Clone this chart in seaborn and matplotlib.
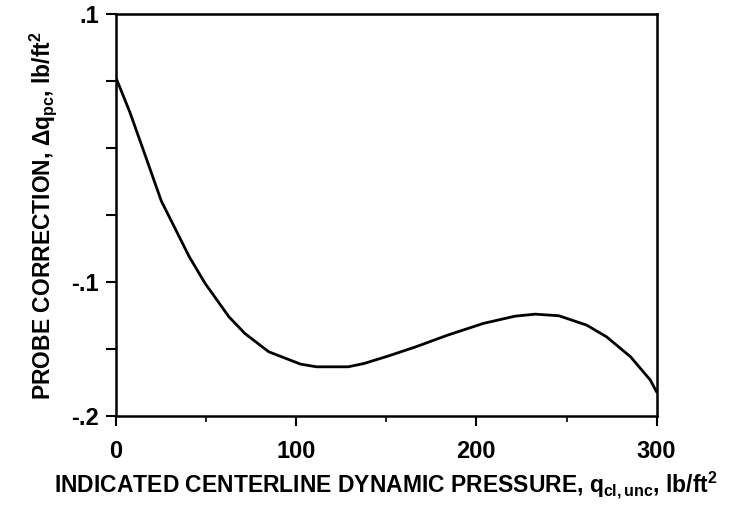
import numpy as np
import matplotlib
matplotlib.use('Agg')
import matplotlib.pyplot as plt
import seaborn as sns
from matplotlib.ticker import FixedLocator

# valeurs
q_cl = [0, 7.8, 15.2, 25.3, 29.7, 40.8, 49.6, 62.8, 71.6, 84.9, 102.5, 111.3,
        128.9, 137.8, 151, 166.4, 184, 203.9, 221.5, 232.6, 245.8, 261.2,
        272.2, 285.5, 296.5, 300]
dq_pc = [0.053, 0.027, -0.001, -0.0395, -0.0513, -0.0811, -0.101, -0.1259,
         -0.1383, -0.152, -0.1612, -0.1632, -0.1632, -0.1607, -0.1552, -0.1483,
         -0.1396, -0.1308, -0.1254, -0.1239, -0.1251, -0.1321, -0.1408,
         -0.1557, -0.1731, -0.182]

x_ticks = [0, 100, 200, 300]
x_labels = ['0', '100', '200', '300']
x_minor = [50, 150, 250]
y_ticks = [0.1, 0.05, 0.0, -0.05, -0.1, -0.15, -0.2]
y_labels = ['.1', '', '', '', '-.1', '', '-.2']

sns.set_style('ticks')
plt.rcParams['font.family'] = ['Liberation Sans', 'DejaVu Sans']
plt.rcParams['font.weight'] = 'bold'
plt.rcParams['text.color'] = 'black'
plt.rcParams['axes.labelcolor'] = 'black'
plt.rcParams['mathtext.fontset'] = 'custom'
plt.rcParams['mathtext.rm'] = 'Liberation Sans:bold'
plt.rcParams['mathtext.it'] = 'Liberation Sans:bold'
plt.rcParams['mathtext.bf'] = 'Liberation Sans:bold'

fig = plt.figure(figsize=(7.37, 5.05), dpi=100)
ax = fig.add_axes([0.157, 0.176, 0.734, 0.796])

sns.lineplot(x=q_cl, y=dq_pc, ax=ax, color='black', linewidth=2)

ax.set_xlim(0, 300)
ax.set_ylim(-0.2, 0.1)
ax.xaxis.set_major_locator(FixedLocator(x_ticks))
ax.set_xticklabels(x_labels)
ax.xaxis.set_minor_locator(FixedLocator(x_minor))
ax.yaxis.set_major_locator(FixedLocator(y_ticks))
ax.set_yticklabels(y_labels)

ax.tick_params(axis='both', which='major', direction='out', length=7, width=1.5,
               labelsize=17, colors='black', labelcolor='black')
ax.tick_params(axis='x', which='major', pad=10)
ax.tick_params(axis='y', which='major', pad=5)
ax.tick_params(axis='x', which='minor', direction='out', length=4, width=1.2,
               colors='black')
for s in ax.spines.values():
    s.set_linewidth(1.8)
    s.set_color('black')

ax.set_xlabel(r'INDICATED CENTERLINE DYNAMIC PRESSURE, $q_{cl,unc}$, lb/ft$^2$',
              fontsize=16.5, fontweight='bold', labelpad=5)
ax.set_ylabel(r'PROBE CORRECTION, $\Delta q_{pc}$, lb/ft$^2$',
              fontsize=16.5, fontweight='bold', labelpad=9)

fig.savefig('out.png', dpi=100)
